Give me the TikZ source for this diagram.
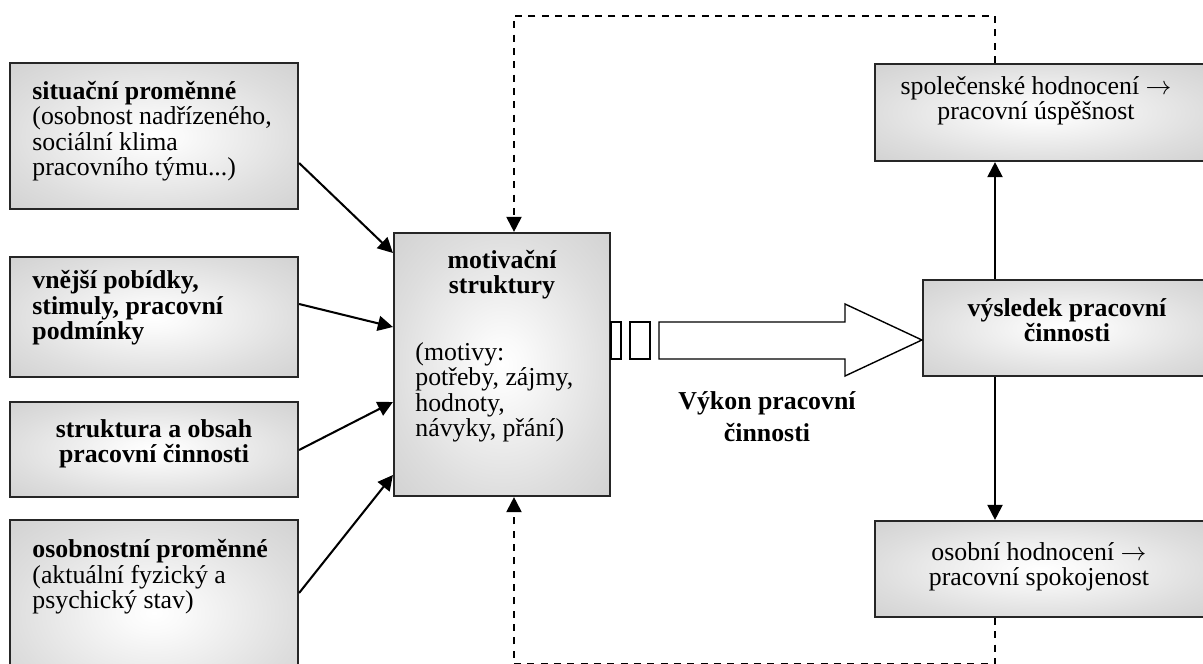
\documentclass[tikz,border=0pt]{standalone}
\usepackage{fontspec}
\setmainfont{Liberation Serif}
\usepackage{tikz}
\usetikzlibrary{arrows.meta,fit}
\pgfdeclareradialshading{boxgrad}{\pgfpoint{0bp}{0bp}}{color(0bp)=(white); color(5bp)=(black!2); color(25bp)=(black!13); color(50bp)=(black!24); color(72bp)=(black!28)}
\tikzset{
  every picture/.style={line join=miter, >={Triangle[length=7pt,width=7pt]}},
  box/.style={draw=black!85, line width=1pt, shading=boxgrad, inner sep=0pt},
  txt/.style={inner sep=0pt, font=\fontsize{12}{11.9}\selectfont},
  bold/.style={txt, font=\fontsize{12}{11.9}\selectfont\bfseries},
  link/.style={line width=0.95pt, ->},
  back/.style={link, dash pattern=on 3.2pt off 3pt},
}

\begin{document}
\begin{tikzpicture}[x=0.465pt,y=-0.465pt]
\useasboundingbox (0,0) rectangle (1203,664);
\clip (0,0) rectangle (1203,664);
% boxes
\node[box, fit={(10,63) (298,209)}] (sit) {};
\node[box, fit={(10,257) (298,377)}] (vne) {};
\node[box, fit={(10,402) (298,497)}] (str) {};
\node[box, fit={(10,520) (298,706)}] (oso) {};
\node[box, fit={(394,233) (610,496)}] (mot) {};
\node[box, fit={(875,64) (1207,161)}] (spo) {};
\node[box, fit={(923,280) (1211,376)}] (vys) {};
\node[box, fit={(875,521) (1207,617)}] (osh) {};
% texts (anchored at the last baseline)
\node[txt, anchor=base west, align=left] (sit-t) at (32,176) {\textbf{situační proměnné}\\(osobnost nadřízeného,\\sociální klima\\pracovního týmu...)};
\node[bold, anchor=base west, align=left] (vne-t) at (32,340) {vnější pobídky,\\stimuly, pracovní\\podmínky};
\node[bold, anchor=base, align=center] (str-t) at (154,463) {struktura a obsah\\pracovní činnosti};
\node[txt, anchor=base west, align=left] (oso-t) at (32,609) {\textbf{osobnostní proměnné}\\(aktuální fyzický a\\psychický stav)};
\node[bold, anchor=base, align=center] (mot-t) at (502,294) {motivační\\struktury};
\node[txt, anchor=base west, align=left] (mot-u) at (415,437) {(motivy:\\potřeby, zájmy,\\hodnoty,\\návyky, přání)};
\node[txt, anchor=base, align=center] (spo-t) at (1036,120) {společenské hodnocení $\rightarrow$\\pracovní úspěšnost};
\node[bold, anchor=base, align=center] (vys-t) at (1067,342) {výsledek pracovní\\činnosti};
\node[txt, anchor=base, align=center] (osh-t) at (1039,586) {osobní hodnocení $\rightarrow$\\pracovní spokojenost};
\node[bold, anchor=base, align=center, font=\fontsize{12}{14.9}\selectfont\bfseries] (vyk) at (767,442) {Výkon pracovní\\činnosti};
% inputs
\foreach \b/\y/\yy in {sit/163/253, vne/304/327, str/450/402, oso/593/475}
  \draw[link] (\b.east |- 0,\y) -- (mot.west |- 0,\yy);
% hollow arrow
\draw[line width=0.65pt, fill=white] (mot.east |- 0,322) rectangle (621,359) (630,322) rectangle (650,359);
\draw[line width=0.65pt, fill=white] (659,322) -- (845,322) -- (845,304) -- (vys.west |- 0,340) -- (845,376) -- (845,359) -- (659,359) -- cycle;
% results
\coordinate (fb) at (995,0);
\coordinate (fa) at (514,0);
\draw[link] (vys.north -| fb) -- (spo.south -| fb);
\draw[link] (vys.south -| fb) -- (osh.north -| fb);
\draw[back] (spo.north -| fb) -- (995,16) -- (514,16) -- (mot.north -| fa);
\draw[back] (osh.south -| fb) -- (995,664) -- (514,664) -- (mot.south -| fa);
\end{tikzpicture}
\end{document}
